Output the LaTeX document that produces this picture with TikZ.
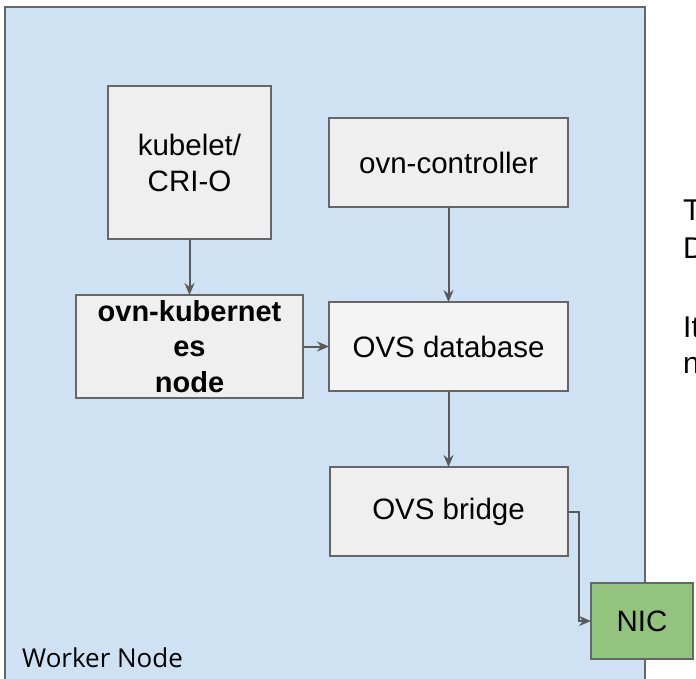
\documentclass[tikz,border=0pt]{standalone}
\usepackage{fontspec}
\setmainfont{Liberation Sans}
\newfontfamily\workerfont{Open Sans}
\usetikzlibrary{arrows.meta, positioning}
\definecolor{workerblue}{HTML}{CFE2F3}
\definecolor{boxgray}{HTML}{EFEFEF}
\definecolor{nicgreen}{HTML}{93C47D}
\definecolor{edgegray}{HTML}{666666}
\definecolor{arrowgray}{HTML}{595959}
\tikzset{
    box/.style={draw=edgegray, line width=2pt, fill=boxgray, align=center, inner sep=0pt, outer sep=0pt, text=black, font=\fontsize{29.5}{36}\selectfont},
    arrow/.style={-{Stealth[length=12pt, width=10pt]}, line width=2pt, arrowgray},
    note/.style={anchor=base west, inner sep=0pt, font=\fontsize{30}{37}\selectfont}
}

\begin{document}
\begin{tikzpicture}[x=1pt, y=-1pt]
        \useasboundingbox (0,0) rectangle (696,678);
        \clip (0,0) rectangle (696,678);
        % worker node
        \draw [draw=edgegray, line width=2.5pt, fill=workerblue] (5,7) rectangle (645,700);
        \node [anchor=base west, inner sep=0pt, font=\workerfont\fontsize{26}{30}\selectfont] (worker) at (22,667) {Worker Node};
        \node [box, minimum width=239pt, minimum height=89pt] (ovnctl) at (448.5,162.5) {ovn-controller};
        \node [box, minimum width=239pt, minimum height=89pt, fill=boxgray!70!white, below=95pt of ovnctl] (ovsdb) {OVS database};
        \node [box, minimum width=227pt, minimum height=103pt, font=\bfseries\fontsize{29}{35.5}\selectfont, left=26pt of ovsdb] (ovnk) {ovn-kubernet\\es\\node};
        \node [box, minimum width=163pt, minimum height=153pt, above=56pt of ovnk] (kubelet) {kubelet/\\CRI-O};
        \node [box, minimum width=238pt, minimum height=89pt, below=76pt of ovsdb] (bridge) {OVS bridge};
        \node [box, minimum width=102pt, minimum height=76pt, fill=nicgreen] (nic) at (642,621) {NIC};
        \draw [arrow] (kubelet) -- (ovnk);
        \draw [arrow] (ovnk) -- (ovsdb);
        \draw [arrow] (ovnctl) -- (ovsdb);
        \draw [arrow] (ovsdb) -- (bridge);
        \draw [arrow] (bridge.east) -- ++(11,0) |- (nic.west);
        % text beside the diagram
        \node [note] (noteT) at (683,220) {T};
        \node [note] (noteD) at (683,258) {D};
        \node [note] (noteIt) at (683,337) {It};
        \node [note] (noteN) at (683,373) {n};
    \end{tikzpicture}
\end{document}
